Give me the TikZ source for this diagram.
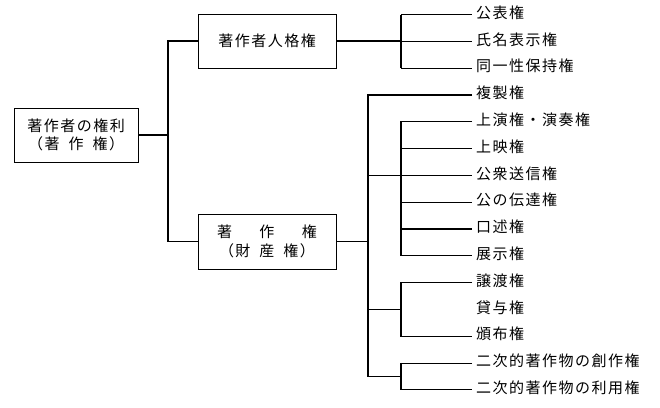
\documentclass[tikz,border=0pt]{standalone}
\usepackage{fontspec}
\setmainfont{Noto Sans CJK JP}[LetterSpace=10]
\usetikzlibrary{calc}
\begin{document}
\begin{tikzpicture}[x=1pt,y=-1pt,font=\fontsize{15pt}{18.5pt}\selectfont,
    box/.style={draw,line width=.9pt,align=center,inner sep=0pt,minimum height=54pt},
    item/.style={anchor=west,inner xsep=4pt,inner ysep=0pt,text height=.88em,text depth=.12em},
    link/.style={line width=1.2pt},
    hair/.style={line width=.6pt}]
  \useasboundingbox (0,0) rectangle (660,407);
  \node[box,minimum width=124pt] (root) at (76,135)
    {著作者の権利\\\makebox[96pt][s]{（著\hfill 作\hfill 権）}};
  \node[box,minimum width=138pt] (moral) at (267,41) {著作者人格権};
  \node[box,minimum width=138pt,minimum height=55pt] (econ) at (267,241.5)
    {\makebox[100pt][s]{著\hfill 作\hfill 権}\\\makebox[96pt][s]{（財\hfill 産\hfill 権）}};
  \foreach \t [count=\i] in {公表権,氏名表示権,同一性保持権,複製権,上演権・演奏権,上映権,
      公衆送信権,公の伝達権,口述権,展示権,譲渡権,貸与権,頒布権,
      二次的著作物の創作権,二次的著作物の利用権}
    \node[item] (r\i) at (472,{14.5+26.8*(\i-1)}) {\t};
  \coordinate (sp) at (168,0);
  \coordinate (sa) at (368,0);
  \coordinate (sb) at (401,0);
  \coordinate (low) at ($(r14.west)!.5!(r15.west)$);
  % 著作者の権利
  \draw[link] (root.east) -- (root.east -| sp);
  \draw[link] (moral.west) -- (moral.west -| sp) -- (econ.west -| sp) -- (econ.west);
  % 著作者人格権
  \draw[link] (moral.east) -- (moral.east -| sb);
  \draw[link] (r1.west -| sb) -- (r3.west -| sb);
  \draw[hair] (r1.west -| sb) -- (r1.west);
  \draw[link] (r2.west -| sb) -- (r2.west);
  \draw[link] (r3.west -| sb) -- (r3.west);
  % 著作権
  \draw[link] (econ.east) -- (econ.east -| sa);
  \draw[link] (r4.west) -- (r4.west -| sa) -- (low -| sa) -- (low -| sb);
  \draw[link] (r7.west -| sa) -- (r7.west);
  \draw[link] (r12.west -| sa) -- (r12.west -| sb);
  \draw[link] (r5.west) -- (r5.west -| sb) -- (r10.west -| sb);
  \draw[hair] (r6.west -| sb) -- (r6.west);
  \draw[link] (r8.west -| sb) -- (r8.west);
  \draw[link] (r9.west -| sb) -- (r9.west);
  \draw[hair] (r10.west -| sb) -- (r10.west);
  \draw[link] (r11.west) -- (r11.west -| sb) -- (r13.west -| sb) -- (r13.west);
  \draw[hair] (r14.west) -- (r14.west -| sb);
  \draw[link] (r14.west -| sb) -- (r15.west -| sb) -- (r15.west);
\end{tikzpicture}
\end{document}
